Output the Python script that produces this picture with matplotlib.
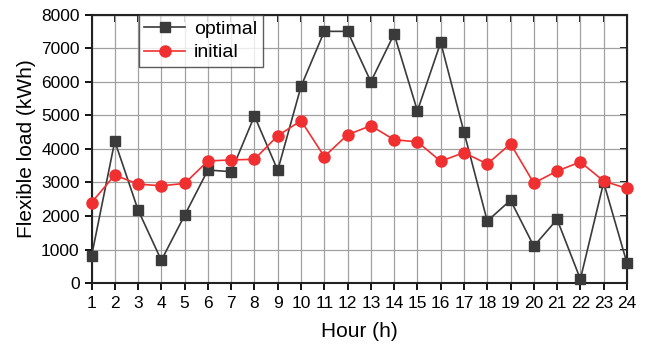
import matplotlib
matplotlib.use("Agg")
import matplotlib.pyplot as plt

hours = list(range(1, 25))
optimal = [800, 4230, 2180, 680, 2020, 3370, 3320, 4980, 3360, 5860, 7500, 7500,
           6000, 7420, 5130, 7170, 4500, 1850, 2470, 1100, 1900, 120, 3000, 600]
initial = [2400, 3220, 2950, 2900, 2970, 3640, 3670, 3690, 4390, 4840, 3770, 4420,
           4690, 4270, 4210, 3630, 3890, 3550, 4150, 2980, 3340, 3610, 3040, 2820]

plt.rcParams['font.family'] = ['Liberation Sans', 'DejaVu Sans']

fig = plt.figure(figsize=(6.49, 3.47), dpi=100)
ax = fig.add_axes([0.141, 0.184, 0.825, 0.774])

ax.plot(hours, optimal, color='#3a3a3a', marker='s', markersize=7, linewidth=1.2,
        label='optimal', clip_on=False, zorder=3)
ax.plot(hours, initial, color='#f03030', marker='o', markersize=8, linewidth=1.2,
        markeredgecolor='#f03030', label='initial', clip_on=False, zorder=3)

ax.set_xlim(1, 24)
ax.set_ylim(0, 8000)
ax.set_xticks(hours)
ax.set_yticks(range(0, 8001, 1000))
ax.grid(True, color='#a0a0a0', linewidth=0.9)
ax.set_axisbelow(True)

for s in ax.spines.values():
    s.set_linewidth(1.5)
    s.set_color('#222222')

ax.tick_params(axis='both', labelsize=12.5, width=1.3, length=5, direction='out')
ax.tick_params(axis='x', pad=4)
# inward ticks on top and right
axt = ax.secondary_xaxis('top')
axt.set_xticks(hours)
axt.tick_params(direction='in', length=5, width=1.3, labeltop=False)
axr = ax.secondary_yaxis('right')
axr.set_yticks(range(0, 8001, 1000))
axr.tick_params(direction='in', length=5, width=1.3, labelright=False)

ax.set_xlabel('Hour (h)', fontsize=15, labelpad=8)
ax.set_ylabel('Flexible load (kWh)', fontsize=15, labelpad=4)

leg = ax.legend(loc='upper left', bbox_to_anchor=(0.088, 1.0), fontsize=14,
                frameon=True, fancybox=False, edgecolor='#333333',
                handlelength=2.1, borderpad=0.3, labelspacing=0.3,
                handletextpad=0.45, borderaxespad=0.0)
leg.get_frame().set_linewidth(1.0)

fig.savefig('out.png', dpi=100, facecolor='white')
